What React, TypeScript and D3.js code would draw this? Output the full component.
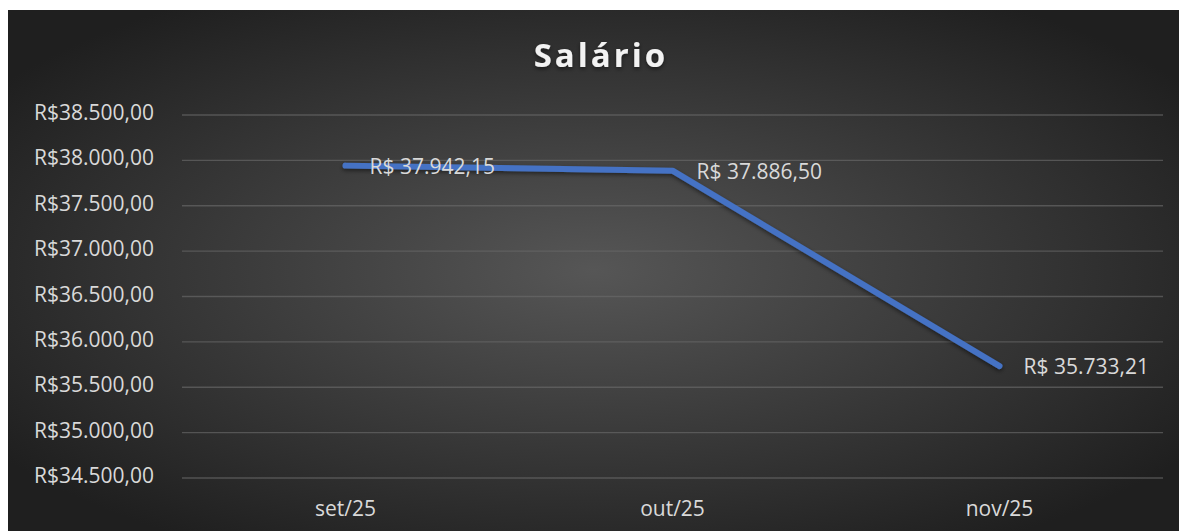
import React from 'react';
import * as d3 from 'd3';

const months = ['set/25', 'out/25', 'nov/25'];
const salario = [37942.15, 37886.5, 35733.21];
const yTicks = [34500, 35000, 35500, 36000, 36500, 37000, 37500, 38000, 38500];

// full window; the chart card itself starts at (8, 10)
const width = 1179;
const height = 531;
const margin = { top: 115, right: 16, bottom: 53, left: 182 };

const fmtAxis = (v: number) =>
  'R$' + d3.format(',.2f')(v).replace(/,/g, '#').replace('.', ',').replace(/#/g, '.');
const fmtLabel = (v: number) =>
  'R$ ' + d3.format(',.2f')(v).replace(/,/g, '#').replace('.', ',').replace(/#/g, '.');

export default function App() {
  const x = d3.scaleBand()
    .domain(months)
    .range([margin.left, width - margin.right]);

  const y = d3.scaleLinear()
    .domain([34500, 38500])
    .range([height - margin.bottom, margin.top]);

  const pts = months.map((m, i) => ({ m, v: salario[i] }));
  const line = d3.line<{ m: string; v: number }>()
    .x(d => (x(d.m) as number) + x.bandwidth() / 2)
    .y(d => y(d.v));

  const font = '"Open Sans", "Noto Sans", sans-serif';

  return (
    <svg
      width={width}
      height={height}
      style={{ position: 'fixed', left: 0, top: 0, display: 'block' }}
    >
      <defs>
        <radialGradient id="bg" cx="50%" cy="50%" r="62%">
          <stop offset="0%" stopColor="#565656" />
          <stop offset="100%" stopColor="#1f1f1f" />
        </radialGradient>
        <filter id="shadow" x="-10%" y="-10%" width="120%" height="130%">
          <feDropShadow dx="0" dy="2" stdDeviation="2" floodColor="#000" floodOpacity="0.5" />
        </filter>
      </defs>
      <rect x={0} y={0} width={width} height={height} fill="#fff" />
      <rect x={8} y={10} width={width - 8} height={height - 10} fill="url(#bg)" />

      <text
        x={601}
        y={67}
        textAnchor="middle"
        fill="#f2f2f2"
        fontFamily={font}
        fontWeight="bold"
        fontSize={33}
        letterSpacing={3}
        filter="url(#shadow)"
      >
        Salário
      </text>

      <g>
        {yTicks.map(t => (
          <g key={t}>
            <line
              x1={margin.left}
              x2={width - margin.right}
              y1={y(t)}
              y2={y(t)}
              stroke="#6a6a6a"
              strokeOpacity={0.65}
              strokeWidth={1.3}
            />
            <text
              x={154}
              y={y(t) + 5}
              textAnchor="end"
              fill="#d9d9d9"
              fontFamily={font}
              fontSize={21}
            >
              {fmtAxis(t)}
            </text>
          </g>
        ))}
      </g>

      <g>
        {months.map(m => (
          <text
            key={m}
            x={(x(m) as number) + x.bandwidth() / 2}
            y={516}
            textAnchor="middle"
            fill="#d9d9d9"
            fontFamily={font}
            fontSize={21}
          >
            {m}
          </text>
        ))}
      </g>

      <path
        d={line(pts) || ''}
        fill="none"
        stroke="#4472c4"
        strokeWidth={6}
        strokeLinecap="round"
        strokeLinejoin="round"
        filter="url(#shadow)"
      />

      <g>
        {pts.map(p => (
          <text
            key={p.m}
            x={(x(p.m) as number) + x.bandwidth() / 2 + 24}
            y={y(p.v) + 8}
            fill="#d9d9d9"
            fontFamily={font}
            fontSize={21}
          >
            {fmtLabel(p.v)}
          </text>
        ))}
      </g>
    </svg>
  );
}
